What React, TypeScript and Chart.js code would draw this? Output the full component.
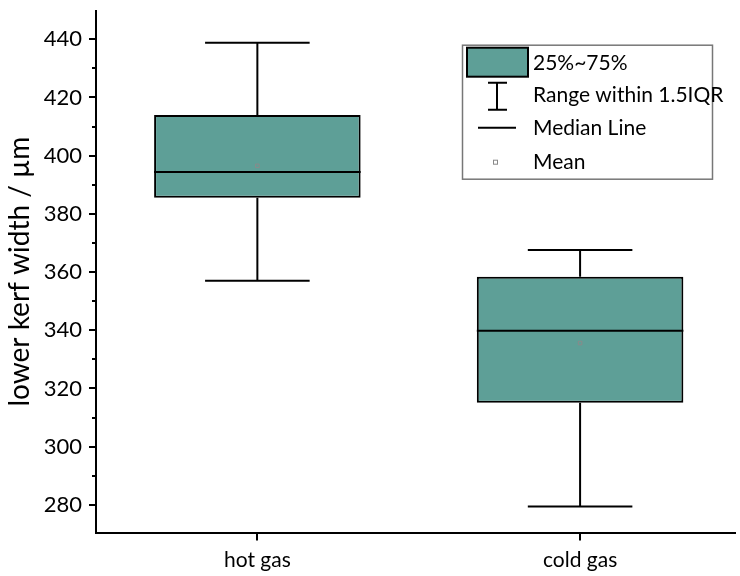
import React, { useEffect, useRef } from 'react';
import { Chart, registerables } from 'chart.js';

Chart.register(...registerables);

// ---- data ----
const categories = ['hot gas', 'cold gas'];
const categoryPositions = [1, 2];
const whiskerMin = [357.0, 279.4];
const q1 = [385.5, 315.1];
const median = [394.4, 339.8];
const q3 = [414.0, 358.4];
const whiskerMax = [438.8, 367.6];
const means = [396.5, 335.6];

const yMin = 270.5;
const yMax = 449.8;
const yMajorTicks = [280, 300, 320, 340, 360, 380, 400, 420, 440];
const yMinorTicks = [290, 310, 330, 350, 370, 390, 410, 430];
const xMin = 0.5;
const xMax = 2.48;

const yTitle = 'lower kerf width / µm';
const legendLabels = ['25%~75%', 'Range within 1.5IQR', 'Median Line', 'Mean'];

// ---- style ----
const FONT = 'Lato';
const BOX_COLOR = '#5e9f97';
const BOX_WIDTH = 0.64; // in category units
const CAP_HALF = 0.162; // in category units

const whiskerPoints: any[] = [];
const medianPoints: any[] = [];
categoryPositions.forEach((c, i) => {
  whiskerPoints.push(
    { x: c - CAP_HALF, y: whiskerMax[i] }, { x: c + CAP_HALF, y: whiskerMax[i] }, { x: c, y: null },
    { x: c, y: whiskerMax[i] }, { x: c, y: q3[i] }, { x: c, y: null },
    { x: c, y: q1[i] }, { x: c, y: whiskerMin[i] }, { x: c, y: null },
    { x: c - CAP_HALF, y: whiskerMin[i] }, { x: c + CAP_HALF, y: whiskerMin[i] }, { x: c, y: null }
  );
  medianPoints.push(
    { x: c - BOX_WIDTH / 2, y: median[i] }, { x: c + BOX_WIDTH / 2, y: median[i] }, { x: c, y: null }
  );
});

const tickPlugin = {
  id: 'tickMarks',
  afterDraw(chart: any) {
    const { ctx, chartArea, scales } = chart;
    const y = scales.y;
    const x = scales.x;
    ctx.save();
    ctx.strokeStyle = '#000';
    ctx.lineWidth = 2;
    ctx.beginPath();
    yMajorTicks.forEach((v) => {
      const py = Math.round(y.getPixelForValue(v));
      ctx.moveTo(chartArea.left - 7, py);
      ctx.lineTo(chartArea.left, py);
    });
    yMinorTicks.forEach((v) => {
      const py = Math.round(y.getPixelForValue(v));
      ctx.moveTo(chartArea.left - 4, py);
      ctx.lineTo(chartArea.left, py);
    });
    categoryPositions.forEach((v) => {
      const px = Math.round(x.getPixelForValue(v));
      ctx.moveTo(px, chartArea.bottom);
      ctx.lineTo(px, chartArea.bottom + 8);
    });
    ctx.stroke();
    ctx.restore();
  },
};

const legendPlugin = {
  id: 'boxLegend',
  afterDraw(chart: any) {
    const { ctx, chartArea } = chart;
    const L = chartArea.left + 366;
    const T = chartArea.top + 34;
    ctx.save();
    // frame
    ctx.strokeStyle = '#777';
    ctx.lineWidth = 1.5;
    ctx.strokeRect(L + 0.5, T + 0.5, 250, 134);
    // box swatch
    ctx.fillStyle = BOX_COLOR;
    ctx.fillRect(L + 5, T + 3, 61, 29);
    ctx.strokeStyle = '#000';
    ctx.lineWidth = 2;
    ctx.strokeRect(L + 5, T + 3, 61, 29);
    // whisker symbol
    ctx.beginPath();
    ctx.moveTo(L + 35, T + 38);
    ctx.lineTo(L + 35, T + 65);
    ctx.moveTo(L + 26, T + 38);
    ctx.lineTo(L + 45, T + 38);
    ctx.moveTo(L + 26, T + 65);
    ctx.lineTo(L + 45, T + 65);
    ctx.stroke();
    // median symbol
    ctx.beginPath();
    ctx.moveTo(L + 16, T + 83);
    ctx.lineTo(L + 54, T + 83);
    ctx.stroke();
    // mean symbol
    ctx.strokeStyle = '#888';
    ctx.lineWidth = 1;
    ctx.strokeRect(L + 31.5, T + 115.5, 4, 4);
    // texts
    ctx.fillStyle = '#000';
    ctx.font = `21px ${FONT}`;
    ctx.textBaseline = 'middle';
    ctx.textAlign = 'left';
    const ys = [19, 51, 84, 118];
    legendLabels.forEach((t, i) => ctx.fillText(t, L + 71, T + ys[i]));
    ctx.restore();
  },
};

export default function App() {
  const ref = useRef<HTMLCanvasElement | null>(null);
  useEffect(() => {
    if (!ref.current) return;
    const chart = new Chart(ref.current, {
      type: 'bar',
      data: {
        datasets: [
          {
            type: 'scatter',
            label: 'Mean',
            data: categoryPositions.map((c, i) => ({ x: c, y: means[i] })),
            pointStyle: 'rect',
            pointRadius: 2.5,
            borderColor: '#8a8a8a',
            backgroundColor: 'rgba(0,0,0,0)',
            borderWidth: 1,
            order: 0,
          } as any,
          {
            type: 'line',
            label: 'Median',
            data: medianPoints,
            borderColor: '#000',
            borderWidth: 2,
            pointRadius: 0,
            spanGaps: false,
            order: 1,
          } as any,
          {
            type: 'line',
            label: 'Whiskers',
            data: whiskerPoints,
            borderColor: '#000',
            borderWidth: 2,
            pointRadius: 0,
            spanGaps: false,
            order: 2,
          } as any,
          {
            type: 'bar',
            label: 'Box',
            data: categoryPositions.map((c, i) => ({ x: c, y: [q1[i], q3[i]] })),
            backgroundColor: BOX_COLOR,
            borderColor: '#000',
            borderWidth: 2,
            borderSkipped: false,
            categoryPercentage: 1,
            barPercentage: BOX_WIDTH,
            order: 3,
          } as any,
        ],
      },
      options: {
        animation: false,
        responsive: true,
        maintainAspectRatio: false,
        layout: { padding: { top: 10.7, left: 0, right: 0, bottom: 0 } },
        plugins: { legend: { display: false }, tooltip: { enabled: false } },
        scales: {
          x: {
            type: 'linear',
            min: xMin,
            max: xMax,
            offset: false,
            afterBuildTicks: (s: any) => {
              s.ticks = categoryPositions.map((v) => ({ value: v }));
            },
            afterFit: (s: any) => {
              s.height = 43.5;
              s.paddingLeft = 0;
              s.paddingRight = 0;
            },
            grid: { display: false, drawTicks: true, tickLength: 7, offset: false },
            border: { display: true, color: '#000', width: 2 },
            ticks: {
              autoSkip: false,
              maxRotation: 0,
              padding: 8,
              color: '#000',
              font: { family: FONT, size: 21 },
              callback: (v: any) => categories[categoryPositions.indexOf(Number(v))] ?? '',
            },
          },
          y: {
            type: 'linear',
            min: yMin,
            max: yMax,
            afterBuildTicks: (s: any) => {
              s.ticks = [...yMajorTicks, ...yMinorTicks].sort((a, b) => a - b).map((v) => ({ value: v }));
            },
            afterFit: (s: any) => {
              s.width = 96;
              s.paddingTop = 0;
              s.paddingBottom = 0;
            },
            grid: { display: false, drawTicks: true, tickLength: 7 },
            border: { display: true, color: '#000', width: 2 },
            title: {
              display: true,
              text: yTitle,
              color: '#000',
              font: { family: FONT, size: 28 },
              padding: { top: 3, bottom: 0 },
            },
            ticks: {
              autoSkip: false,
              padding: 7,
              color: '#000',
              font: { family: FONT, size: 22 },
              callback: (v: any) => (yMajorTicks.includes(Number(v)) ? String(v) : ''),
            },
          },
        },
      },
      plugins: [tickPlugin, legendPlugin],
    });
    return () => chart.destroy();
  }, []);

  return (
    <div style={{ position: 'absolute', left: 0, top: 0, width: 740, height: 576, background: '#fff' }}>
      <canvas ref={ref} />
    </div>
  );
}
